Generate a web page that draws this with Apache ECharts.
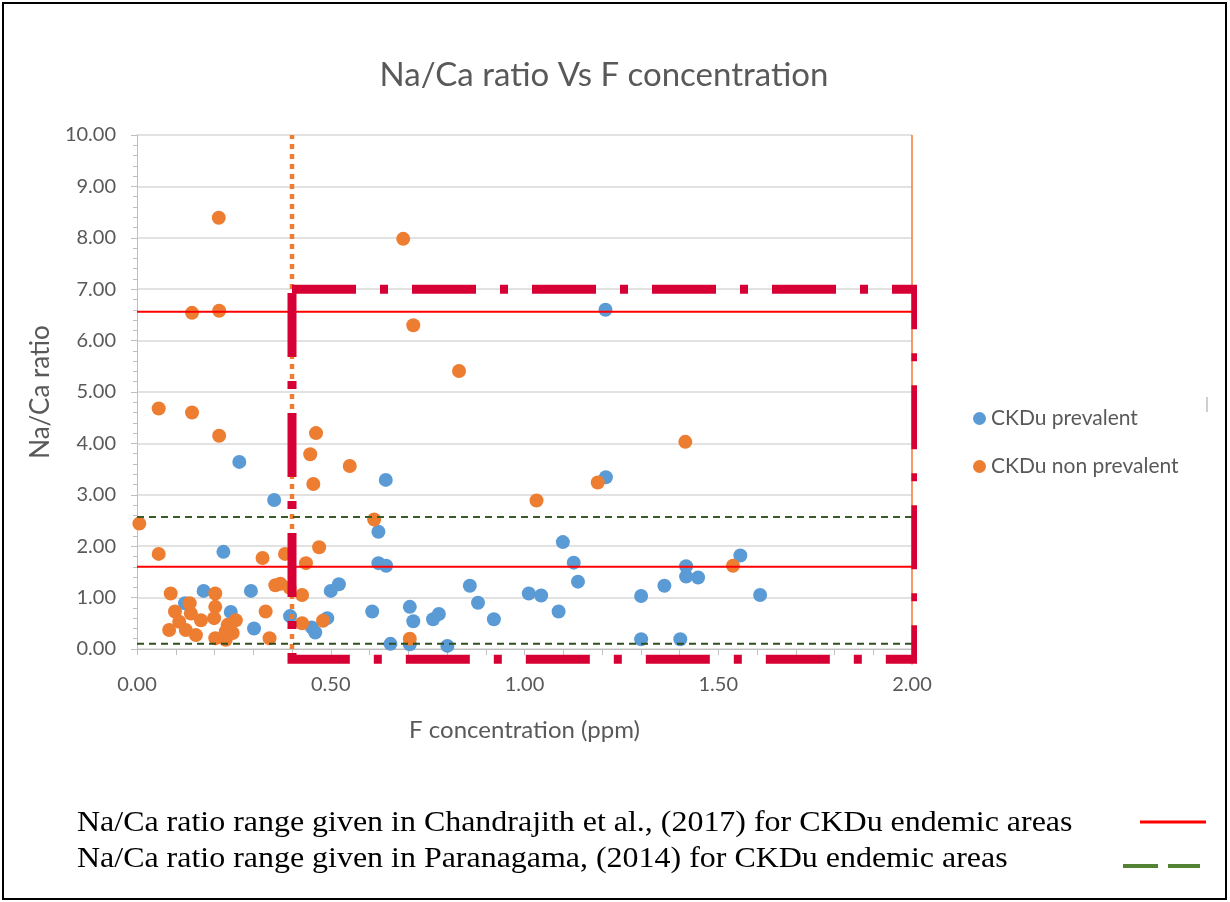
<!DOCTYPE html>
<html><head><meta charset="utf-8">
<script src="https://cdn.jsdelivr.net/npm/echarts@6/dist/echarts.min.js"></script>
<style>html,body{margin:0;padding:0;background:#fff}#chart{width:1230px;height:902px}</style>
</head><body><div id="chart"></div>
<script>
// ---- Data ----
const prevalentF = [0.264,0.354,0.642,0.623,0.623,0.643,0.223,0.172,0.294,0.124,0.242,0.302,0.395,0.451,0.460,0.491,0.500,0.521,0.607,0.654,0.704,0.713,0.704,0.764,0.779,0.801,0.859,0.880,0.921,1.011,1.043,1.088,1.099,1.127,1.138,1.210,1.209,1.301,1.301,1.361,1.402,1.417,1.417,1.448,1.557,1.608];
const prevalentNaCa = [3.64,2.90,3.29,2.28,1.67,1.62,1.89,1.13,1.13,0.89,0.72,0.40,0.64,0.42,0.32,0.60,1.13,1.26,0.73,0.10,0.82,0.54,0.09,0.58,0.68,0.06,1.23,0.90,0.58,1.08,1.04,0.73,2.08,1.68,1.31,3.34,6.60,1.03,0.19,1.23,0.19,1.61,1.41,1.39,1.82,1.05];
const nonPrevalentF = [0.211,0.687,0.142,0.212,0.713,0.831,0.056,0.142,0.212,0.462,0.447,0.455,0.549,1.415,0.612,1.031,1.189,0.006,0.056,0.470,0.324,0.382,0.436,1.538,0.087,0.202,0.357,0.370,0.394,0.426,0.136,0.098,0.139,0.202,0.199,0.165,0.109,0.083,0.126,0.152,0.255,0.234,0.229,0.247,0.202,0.229,0.332,0.342,0.426,0.480,0.704];
const nonPrevalentNaCa = [8.39,7.98,6.54,6.58,6.30,5.41,4.68,4.60,4.15,4.20,3.79,3.21,3.56,4.03,2.52,2.89,3.24,2.44,1.85,1.98,1.77,1.85,1.67,1.62,1.08,1.08,1.24,1.27,1.19,1.05,0.89,0.73,0.69,0.82,0.60,0.56,0.53,0.37,0.37,0.27,0.56,0.47,0.34,0.31,0.21,0.18,0.73,0.21,0.50,0.55,0.20];
const chandrajithRange = [1.60, 6.56];
const paranagamaRange = [0.10, 2.57];
const fThresholdLow = 0.4;
const fThresholdHigh = 2.0;
const boxF = [0.4, 2.01];
const boxNaCa = [-0.2, 7.0];
const xRange = [0, 2];
const yRange = [0, 10];
const seriesNames = ['CKDu prevalent', 'CKDu non prevalent'];
const noteLines = [
  'Na/Ca ratio range given in Chandrajith et al., (2017) for CKDu endemic areas',
  'Na/Ca ratio range given in Paranagama, (2014) for CKDu endemic areas'
];

const zip = (a, b) => a.map((v, i) => [v, b[i]]);
const FONT = 'Lato, "Open Sans", sans-serif';
const GRAY = '#595959';

function hLine(name, y, color, type, width, x0, x1) {
  return { name, type: 'line', data: [[x0, y], [x1, y]], symbol: 'none', silent: true, clip: false, z: 4,
    lineStyle: { color, width, type }, animation: false };
}

const series = [
  { name: seriesNames[0], type: 'scatter', data: zip(prevalentF, prevalentNaCa), symbolSize: 14,
    itemStyle: { color: '#5B9BD5', opacity: 1 }, z: 2, animation: false },
  { name: seriesNames[1], type: 'scatter', data: zip(nonPrevalentF, nonPrevalentNaCa), symbolSize: 14,
    itemStyle: { color: '#ED7D31', opacity: 1 }, z: 2, animation: false },
  hLine('c1', chandrajithRange[1], '#FF0000', 'solid', 2, xRange[0], xRange[1]),
  hLine('c0', chandrajithRange[0], '#FF0000', 'solid', 2, xRange[0], xRange[1]),
  hLine('p1', paranagamaRange[1], '#3A5A28', [7, 5], 2, xRange[0], xRange[1]),
  hLine('p0', paranagamaRange[0], '#2F4F1F', [7, 5], 2, xRange[0], 2.02),
  { name: 'fLow', type: 'line', data: [[fThresholdLow, yRange[0]], [fThresholdLow, yRange[1]]], symbol: 'none', silent: true, clip: false, z: 3,
    lineStyle: { color: '#ED7D31', width: 4.5, type: [5, 5] }, animation: false },
  { name: 'fHigh', type: 'line', data: [[fThresholdHigh, -0.3], [fThresholdHigh, yRange[1]]], symbol: 'none', silent: true, clip: false, z: 3,
    lineStyle: { color: '#ED7D31', width: 1.5 }, animation: false },
  { name: 'box', type: 'line',
    data: [[boxF[0], boxNaCa[1]], [boxF[1], boxNaCa[1]], [boxF[1], boxNaCa[0]], [boxF[0], boxNaCa[0]], [boxF[0], boxNaCa[1]]],
    symbol: 'none', silent: true, clip: false, z: 5,
    lineStyle: { color: '#D70035', width: 9, type: [64, 24, 8, 24], cap: 'butt', join: 'miter' }, animation: false }
];

const chart = echarts.init(document.getElementById('chart'), null, { renderer: 'canvas' });
chart.setOption({
  backgroundColor: '#fff',
  animation: false,
  title: { text: 'Na/Ca ratio Vs F concentration', left: 599, top: 54, textAlign: 'center',
    textStyle: { fontFamily: FONT, fontSize: 33, fontWeight: 'normal', color: GRAY } },
  grid: { left: 137, right: 318, top: 135, bottom: 253 },
  legend: { data: seriesNames, orient: 'vertical', left: 968, top: 403, itemGap: 27, itemWidth: 13, itemHeight: 13,
    icon: 'circle', textStyle: { fontFamily: FONT, fontSize: 21, color: GRAY } },
  xAxis: { type: 'value', min: xRange[0], max: xRange[1], interval: 0.5,
    name: 'F concentration (ppm)', nameLocation: 'middle', nameGap: 69,
    nameTextStyle: { fontFamily: FONT, fontSize: 24, color: GRAY },
    axisLine: { show: true, onZero: false, lineStyle: { color: '#BFBFBF' } },
    axisTick: { show: true, length: 6, lineStyle: { color: '#BFBFBF' } },
    minorTick: { show: true, splitNumber: 5, length: 6, lineStyle: { color: '#BFBFBF' } },
    splitLine: { show: false },
    axisLabel: { fontFamily: FONT, fontSize: 20, color: GRAY, margin: 26, formatter: v => v.toFixed(2) } },
  yAxis: { type: 'value', min: yRange[0], max: yRange[1], interval: 1,
    name: 'Na/Ca ratio', nameLocation: 'middle', nameGap: 83, nameRotate: 90,
    nameTextStyle: { fontFamily: FONT, fontSize: 26, color: GRAY },
    axisLine: { show: true, onZero: false, lineStyle: { color: '#BFBFBF' } },
    axisTick: { show: true, length: 6, lineStyle: { color: '#BFBFBF' } },
    minorTick: { show: true, splitNumber: 5, length: 4, lineStyle: { color: '#BFBFBF' } },
    splitLine: { show: true, lineStyle: { color: '#D9D9D9', width: 1.5 } },
    axisLabel: { fontFamily: FONT, fontSize: 20, color: GRAY, margin: 21, formatter: v => v.toFixed(2) } },
  series,
  graphic: [
    { type: 'rect', shape: { x: 3, y: 3, width: 1223, height: 896 }, style: { fill: 'none', stroke: '#000', lineWidth: 2 }, silent: true },
    { type: 'line', shape: { x1: 1207, y1: 397, x2: 1207, y2: 412 }, style: { stroke: '#BFBFBF', lineWidth: 1.5 } },
    { type: 'text', x: 77, y: 823, scaleX: 1.065, style: { text: noteLines[0], font: '30px "Liberation Serif", "Times New Roman", serif', fill: '#000', verticalAlign: 'middle' } },
    { type: 'text', x: 77, y: 859, scaleX: 1.065, style: { text: noteLines[1], font: '30px "Liberation Serif", "Times New Roman", serif', fill: '#000', verticalAlign: 'middle' } },
    { type: 'line', shape: { x1: 1140, y1: 822, x2: 1206, y2: 822 }, style: { stroke: '#FF0000', lineWidth: 3 } },
    { type: 'line', shape: { x1: 1123, y1: 866, x2: 1158, y2: 866 }, style: { stroke: '#548235', lineWidth: 4 } },
    { type: 'line', shape: { x1: 1168, y1: 866, x2: 1200, y2: 866 }, style: { stroke: '#548235', lineWidth: 4 } }
  ]
});
</script></body></html>
